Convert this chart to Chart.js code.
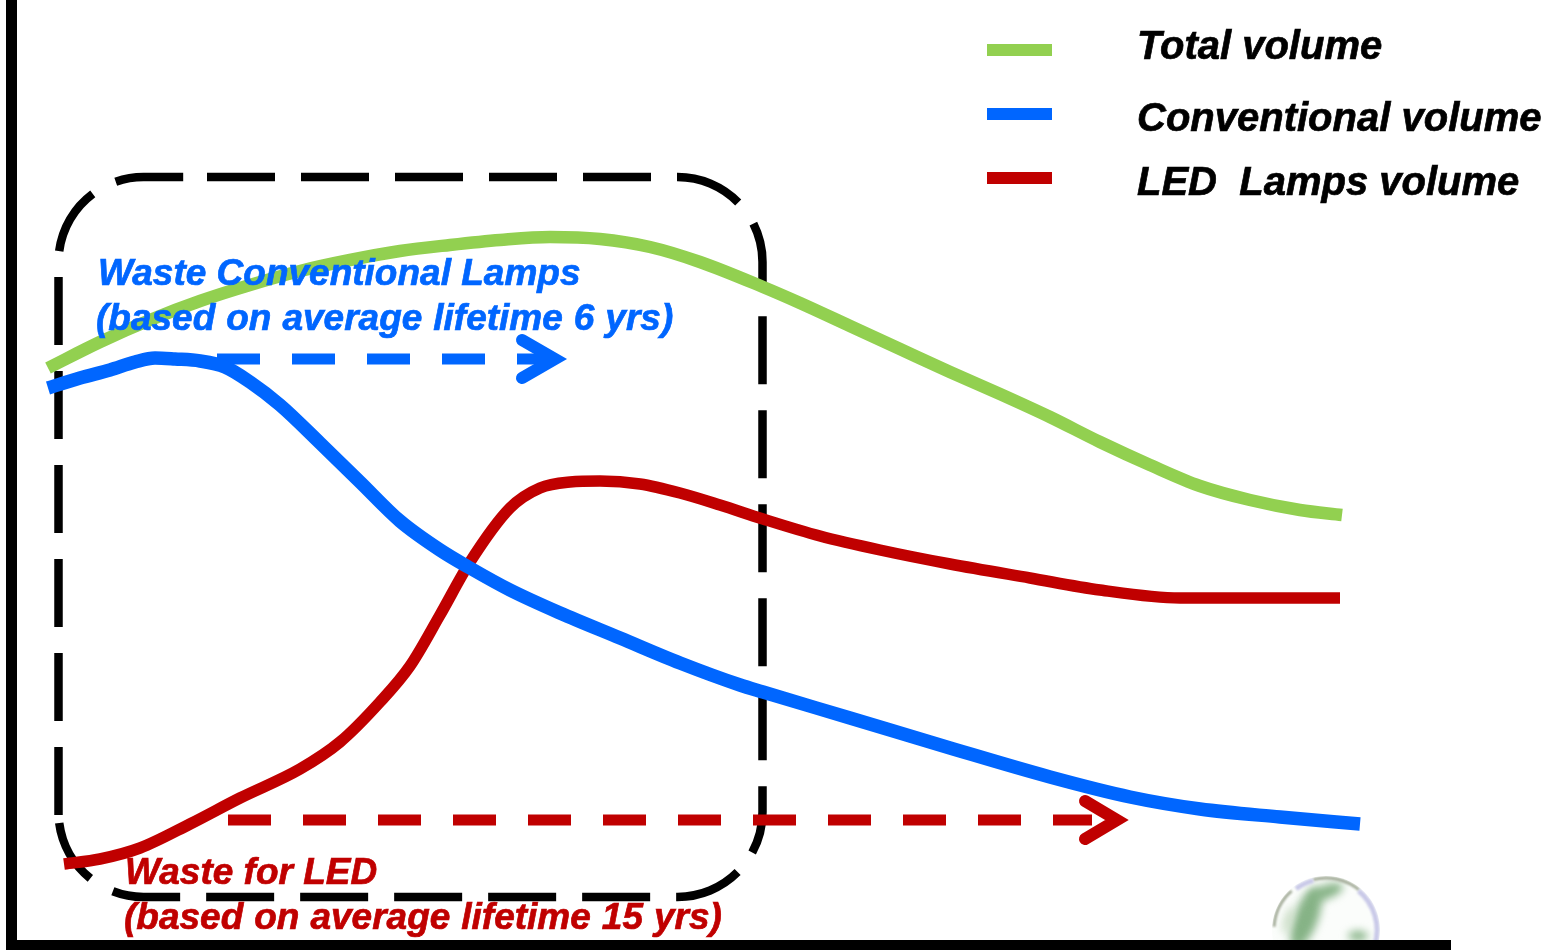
<!DOCTYPE html>
<html>
<head>
<meta charset="utf-8">
<title>Lamp waste volume</title>
<script src="https://cdn.jsdelivr.net/npm/chart.js@4"></script>
<style>
	html, body { margin: 0; padding: 0; background: #fff; }
	#wrap { width: 1543px; height: 950px; overflow: hidden; }
	canvas { display: block; }
</style>
</head>
<body>
<div id="wrap"><canvas id="chart" width="1543" height="950"></canvas></div>
<script>
/* values, the axes have no units so these are relative */
const totalTime = [3.6, 8.8, 13.8, 18.8, 23.8, 28.8, 33.8, 38.8, 43.8, 48.8, 53.8, 58.8, 63.8, 68.8, 75.1, 78.8, 83.8, 88.8, 93.8, 98.8, 103.8, 108.8, 113.8, 118.8, 123.8, 128.8, 133.0];
const totalVolume = [57.7, 60.3, 62.5, 64.4, 66, 67.4, 68.5, 69.4, 70, 70.5, 70.8, 70.6, 69.8, 68.3, 65.8, 64.2, 61.9, 59.6, 57.3, 55.1, 52.8, 50.3, 48, 45.9, 44.5, 43.5, 43];

const convTime = [3.6, 6.8, 9.8, 12.3, 14.3, 16.3, 18.8, 21.3, 23.8, 26.8, 30.8, 34.8, 38.8, 42.8, 45.8, 49.8, 54.8, 60.8, 66.8, 72.8, 75.1, 83.8, 93.8, 103.8, 111.8, 118.8, 126.8, 134.8];
const convVolume = [55.7, 56.7, 57.5, 58.3, 58.7, 58.6, 58.4, 57.8, 56.3, 54, 50.2, 46.3, 42.4, 39.5, 37.7, 35.5, 33.2, 30.7, 28.2, 26, 25.3, 22.7, 19.7, 16.8, 14.8, 13.6, 12.8, 12.1];

const ledTime = [5.2, 8.8, 12.8, 17.8, 22.8, 28.8, 32.8, 36.8, 39.8, 42.8, 45.8, 49.8, 52.8, 55.8, 58.8, 62.8, 66.8, 70.8, 75.1, 80.8, 86.8, 93.8, 101.8, 108.8, 116.8, 124.8, 132.8];
const ledVolume = [8.1, 8.6, 9.7, 12.1, 14.7, 17.6, 20.3, 24.3, 27.9, 33, 38.3, 43.7, 45.7, 46.3, 46.4, 46.1, 45.2, 44, 42.6, 40.9, 39.5, 38.1, 36.7, 35.5, 34.7, 34.7, 34.7];

/* arrows for waste */
const convArrowTime = [20.5, 54];
const convArrowLevel = [58.6, 58.6];
const convHeadTime = [51, 54.3, 51];
const convHeadLevel = [60.5, 58.6, 56.7];
const ledArrowTime = [21.6, 108];
const ledArrowLevel = [12.5, 12.5];
const ledHeadTime = [107.3, 110.5, 107.3];
const ledHeadLevel = [14.4, 12.5, 10.6];

/* dashed box: left, right, top, bottom */
const boxTime = [4.65, 75.05];
const boxLevel = [76.8, 4.8];

const legendLabels = ['Total volume', 'Conventional volume', 'LED  Lamps volume'];
const convNote = ['Waste Conventional Lamps', '(based on average lifetime 6 yrs)'];
const ledNote = ['Waste for LED', '(based on average lifetime 15 yrs)'];

const GREEN = '#92D050';
const BLUE = '#0066FF';
const RED = '#C00000';

function points(xs, ys) {
	return xs.map(function(x, i) { return { x: x, y: ys[i] }; });
}

function curve(label, xs, ys, color, width) {
	return { label: label, data: points(xs, ys), borderColor: color, borderWidth: width, cubicInterpolationMode: 'monotone', pointRadius: 0, fill: false };
}

function dashed(label, xs, ys, color) {
	return { label: label, data: points(xs, ys), borderColor: color, borderWidth: 11, borderDash: [43, 32], pointRadius: 0, fill: false };
}

function head(label, xs, ys, color) {
	return { label: label, data: points(xs, ys), borderColor: color, borderWidth: 12, borderCapStyle: 'round', borderJoinStyle: 'miter', pointRadius: 0, fill: false };
}

/* globe in the corner, sits behind the axis */
const globePlugin = {
	id: 'globe',
	beforeDraw: function(chart) {
		const ctx = chart.ctx;
		const cx = 1326, cy = 930, r = 53;
		ctx.save();
		ctx.beginPath();
		ctx.arc(cx, cy, r + 1, 0, Math.PI * 2);
		ctx.clip();
		ctx.fillStyle = '#fbfdfb';
		ctx.fillRect(cx - r - 1, cy - r - 1, r * 2 + 2, r * 2 + 2);
		ctx.filter = 'blur(4px)';
		ctx.fillStyle = '#86b386';
		ctx.beginPath();
		ctx.ellipse(1306, 918, 12, 32, 0.35, 0, Math.PI * 2);
		ctx.fill();
		ctx.beginPath();
		ctx.ellipse(1326, 892, 18, 7, -0.35, 0, Math.PI * 2);
		ctx.fill();
		ctx.beginPath();
		ctx.ellipse(1358, 936, 10, 5, 0, 0, Math.PI * 2);
		ctx.fill();
		ctx.fillStyle = '#c9dcc4';
		ctx.beginPath();
		ctx.ellipse(1288, 920, 4, 14, 0.3, 0, Math.PI * 2);
		ctx.fill();
		ctx.filter = 'blur(1px)';
		ctx.lineWidth = 3;
		ctx.strokeStyle = '#a3ab98';
		ctx.beginPath();
		ctx.arc(cx, cy, r - 1, Math.PI * 1.02, Math.PI * 1.27);
		ctx.stroke();
		ctx.beginPath();
		ctx.arc(cx, cy, r - 1, Math.PI * 1.42, Math.PI * 1.72);
		ctx.stroke();
		ctx.strokeStyle = '#c9c9e8';
		ctx.lineWidth = 5;
		ctx.beginPath();
		ctx.arc(cx, cy, r - 2, Math.PI * 1.3, Math.PI * 1.42);
		ctx.stroke();
		ctx.beginPath();
		ctx.arc(cx, cy, r - 2, Math.PI * 1.72, Math.PI * 2.1);
		ctx.stroke();
		ctx.restore();
	}
};

/* rounded dashed rectangle behind the lines, three strokes so the dashes meet like the original */
const boxPlugin = {
	id: 'box',
	beforeDatasetsDraw: function(chart) {
		const ctx = chart.ctx;
		const x = chart.scales.x, y = chart.scales.y;
		const l = x.getPixelForValue(boxTime[0]), r = x.getPixelForValue(boxTime[1]);
		const t = y.getPixelForValue(boxLevel[0]), b = y.getPixelForValue(boxLevel[1]);
		const rad = 85;
		ctx.save();
		ctx.strokeStyle = '#000';
		ctx.lineWidth = 8.5;
		ctx.setLineDash([68, 26]);

		ctx.beginPath();
		ctx.moveTo(207, t);
		ctx.lineTo(r - rad, t);
		ctx.arc(r - rad, t + rad, rad, -Math.PI / 2, 0);
		ctx.lineTo(r, b - rad);
		ctx.arc(r - rad, b - rad, rad, 0, Math.PI / 4);
		ctx.stroke();

		ctx.beginPath();
		ctx.arc(r - rad, b - rad, rad, Math.PI / 4, Math.PI / 2);
		ctx.lineTo(l + rad, b);
		ctx.arc(l + rad, b - rad, rad, Math.PI / 2, Math.PI - 0.13);
		ctx.stroke();

		ctx.beginPath();
		ctx.moveTo(l, b - rad + 3);
		ctx.lineTo(l, t + rad);
		ctx.arc(l + rad, t + rad, rad, Math.PI, Math.PI * 1.5);
		ctx.lineTo(190, t);
		ctx.stroke();
		ctx.restore();
	}
};

/* a thin outline on the text, the original lettering is heavier than plain bold */
function heavyText(ctx, txt, x, y, color) {
	ctx.fillStyle = color;
	ctx.strokeStyle = color;
	ctx.lineWidth = 0.7;
	ctx.fillText(txt, x, y);
	ctx.strokeText(txt, x, y);
}

/* legend and the two notes, on top of the lines */
const textPlugin = {
	id: 'texts',
	afterDatasetsDraw: function(chart) {
		const ctx = chart.ctx;
		ctx.save();
		ctx.textBaseline = 'alphabetic';
		ctx.textAlign = 'left';

		const colors = [GREEN, BLUE, RED];
		const swatchY = [44, 108, 172];
		const baseY = [59, 131, 195];
		ctx.font = 'italic bold 40px "Liberation Sans"';
		legendLabels.forEach(function(txt, i) {
			ctx.fillStyle = colors[i];
			ctx.fillRect(987, swatchY[i], 65, 12);
			heavyText(ctx, txt, 1137, baseY[i], '#000');
		});

		ctx.font = 'italic bold 37px "Liberation Sans"';
		heavyText(ctx, convNote[0], 98, 285, BLUE);
		heavyText(ctx, ledNote[0], 125, 884, RED);

		ctx.wordSpacing = '0.7px';
		heavyText(ctx, convNote[1], 96, 330, BLUE);
		heavyText(ctx, ledNote[1], 124, 929, RED);
		ctx.restore();
	}
};

const chart = new Chart(document.getElementById('chart'), {
	type: 'line',
	data: {
		datasets: [
			curve('Conventional volume', convTime, convVolume, BLUE, 13.5),
			curve('Total volume', totalTime, totalVolume, GREEN, 12.5),
			curve('LED Lamps volume', ledTime, ledVolume, RED, 11.5),
			dashed('Waste conventional', convArrowTime, convArrowLevel, BLUE),
			head('Waste conventional head', convHeadTime, convHeadLevel, BLUE),
			dashed('Waste LED', ledArrowTime, ledArrowLevel, RED),
			head('Waste LED head', ledHeadTime, ledHeadLevel, RED)
		]
	},
	options: {
		responsive: false,
		animation: false,
		layout: { padding: { left: 11, right: 93, top: 0, bottom: 5 } },
		plugins: {
			legend: { display: false },
			tooltip: { enabled: false }
		},
		scales: {
			x: {
				type: 'linear', min: -0.1, max: 143.8,
				ticks: { display: false },
				grid: { display: false, drawTicks: false },
				border: { display: true, color: '#000', width: 10 }
			},
			y: {
				type: 'linear', min: 0, max: 94.5,
				ticks: { display: false },
				grid: { display: false, drawTicks: false },
				border: { display: true, color: '#000', width: 11 }
			}
		}
	},
	plugins: [globePlugin, boxPlugin, textPlugin]
});
</script>
</body>
</html>
